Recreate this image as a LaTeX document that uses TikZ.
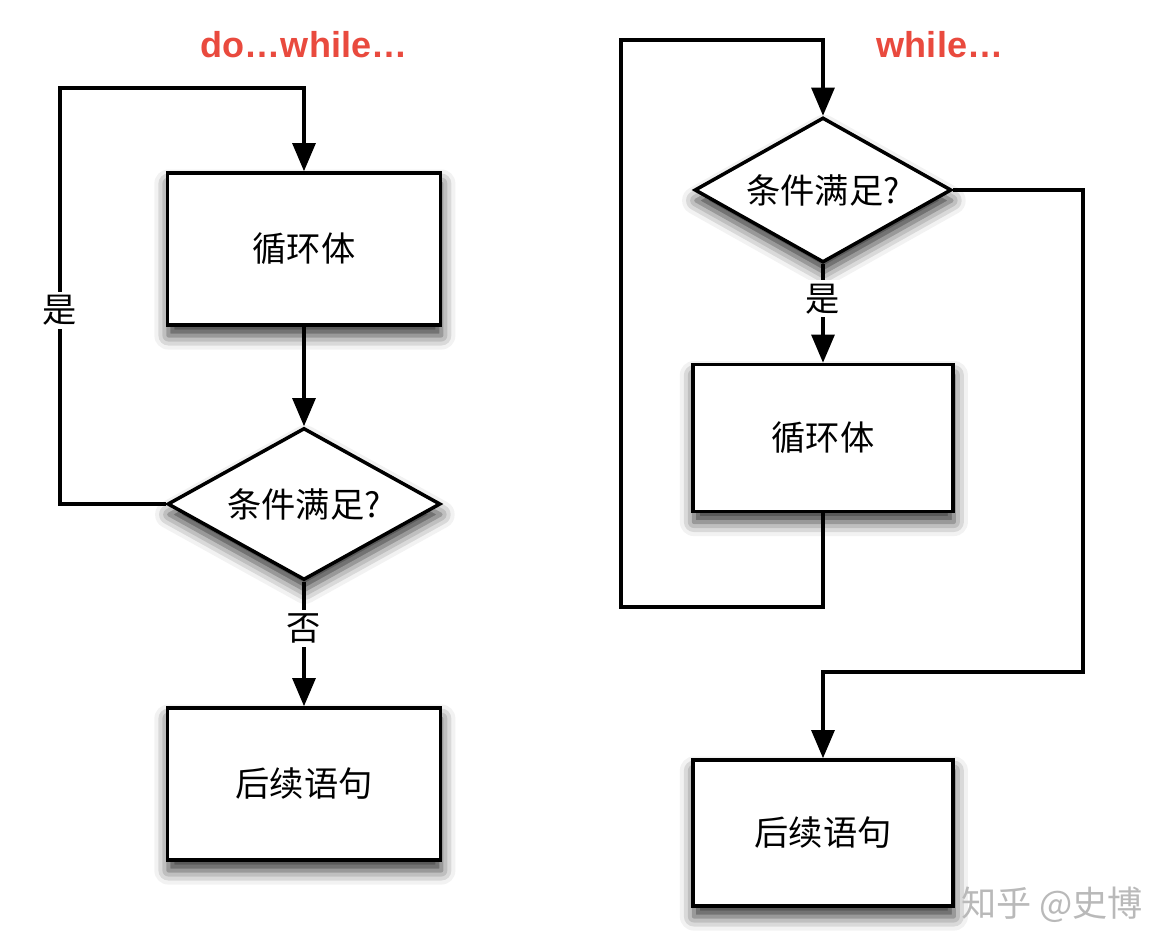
\documentclass[tikz,border=0pt]{standalone}
\usepackage{fontspec}
\setmainfont{Liberation Sans}
\newfontfamily\cjk{Noto Sans CJK SC}
\usetikzlibrary{shapes.geometric,arrows.meta,positioning,shadows.blur}
\usepackage{xcolor}
\definecolor{TitleRed}{RGB}{233,74,62}
\definecolor{Mark}{RGB}{185,185,185}
\tikzset{
  stepbox/.style={rectangle,draw=black,fill=white,line width=2pt,
                  font=\cjk\fontsize{19.5}{22}\selectfont,
                  minimum width=5.46cm,minimum height=3.04cm,inner sep=0pt,
                  blur shadow={shadow xshift=0.5pt,shadow yshift=-6pt,
                               shadow blur radius=8pt,shadow opacity=80}},
  testbox/.style={stepbox,diamond,aspect=1.8},
  flow/.style={-{Triangle[width=13pt,length=16pt]},black,line width=2pt},
  lbl/.style={fill=white,inner sep=2pt,font=\cjk\fontsize{19.5}{22}\selectfont},
  title/.style={font=\bfseries\fontsize{20.5}{22}\selectfont,text=TitleRed},
}
\begin{document}
\begin{tikzpicture}[x=0.02cm,y=-0.02cm]
  \useasboundingbox (0,0) rectangle (1174,952);
  % do...while...
  \node[title] (title1) at (304,45) {do…while…};
  \node[stepbox] (body1) at (304,249) {循环体};
  \node[testbox] (cond1) at (304,504) {条件满足?};
  \node[stepbox] (next1) at (304,784) {后续语句};
  \coordinate (back1) at (60,88);
  \draw[flow] (body1.south) -- (cond1.north);
  \draw[flow] (cond1.west) -| node[lbl,pos=0.733] {是} (back1) -| (body1.north);
  \draw[flow] (cond1.south) -- node[lbl,pos=0.375] {否} (next1.north);
  %
  % while...
  \node[title] (title2) at (940,45) {while…};
  \node[testbox,minimum width=5.14cm,minimum height=2.9cm] (cond2) at (823,190) {条件满足?};
  \node[stepbox,minimum width=5.2cm,minimum height=2.94cm] (body2) at (823,438) {循环体};
  \node[stepbox,minimum width=5.2cm,minimum height=2.92cm] (next2) at (823,833) {后续语句};
  \coordinate (back2) at (621,40);
  \coordinate (exit2) at (1083,672);
  \draw[flow] (cond2.south) -- node[lbl,pos=0.35] {是} (body2.north);
  \draw[flow] (body2.south) -- ++(0,94) -| (back2) -| (cond2.north);
  \draw[flow] (cond2.east) -| (exit2) -| (next2.north);
  %
  \node[font=\cjk\fontsize{20}{22}\selectfont,text=Mark] (mark) at (1052,905) {知乎 @史博};
\end{tikzpicture}
\end{document}
